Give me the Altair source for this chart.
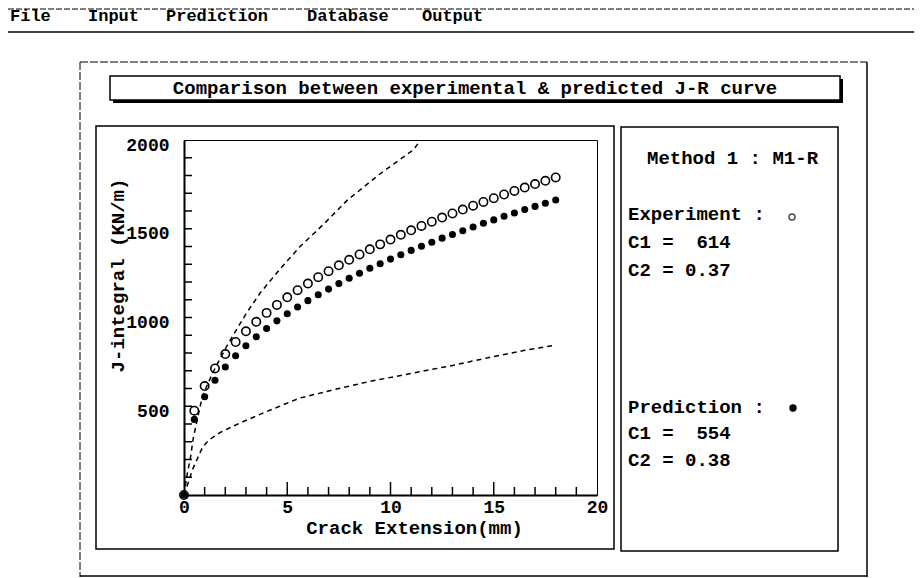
import altair as alt
import pandas as pd

# ---------------- data ----------------
crack_ext = [0, 0.5, 1, 1.5, 2, 2.5, 3, 3.5, 4, 4.5, 5, 5.5, 6, 6.5, 7, 7.5, 8, 8.5, 9,
             9.5, 10, 10.5, 11, 11.5, 12, 12.5, 13, 13.5, 14, 14.5, 15, 15.5, 16, 16.5,
             17, 17.5, 18]
j_experiment = [0, 475, 614, 713, 794, 862, 922, 976, 1026, 1071, 1114, 1154, 1191, 1227,
                1261, 1294, 1325, 1355, 1384, 1412, 1439, 1466, 1491, 1516, 1540, 1563,
                1586, 1608, 1630, 1651, 1672, 1693, 1713, 1732, 1752, 1770, 1789]
j_prediction = [0, 426, 554, 646, 721, 785, 841, 892, 938, 981, 1021, 1059, 1095, 1128,
                1160, 1191, 1221, 1249, 1277, 1303, 1329, 1354, 1378, 1401, 1424, 1447,
                1468, 1489, 1510, 1531, 1550, 1570, 1589, 1608, 1626, 1644, 1662]

upper_x = [0, 0.1, 0.2, 0.3, 0.45, 0.65, 0.9, 1.4, 2.1, 3.0, 3.7, 4.7, 5.6, 6.8, 7.9, 9.5, 11.1, 11.4]
upper_y = [0, 80, 145, 200, 320, 430, 560, 690, 845, 1020, 1140, 1280, 1397, 1530, 1660, 1810, 1944, 1990]
lower_x = [0, 0.2, 0.4, 0.63, 0.9, 1.2, 1.8, 2.7, 4.0, 5.6, 7.5, 9.0, 11.1, 13.0, 15.0, 16.5, 18.0]
lower_y = [0, 68, 140, 200, 270, 310, 355, 405, 470, 546, 600, 640, 687, 730, 780, 815, 845]

x_ticks_major = [5, 10, 15]
x_ticks_minor = [1, 2, 3, 4, 6, 7, 8, 9, 11, 12, 13, 14, 16, 17, 18, 19]
y_ticks = [100, 200, 300, 400, 500, 600, 700, 800, 900, 1000, 1100, 1200, 1300, 1400,
           1500, 1600, 1700, 1800, 1900]
x_labels = [0, 5, 10, 15, 20]
y_labels = [500, 1000, 1500, 2000]

NB = "\u00a0"
menu_items = ["File", "Input", "Prediction", "Database", "Output"]
menu_x = [10, 88, 166, 307, 422]
title_text = "Comparison between experimental & predicted J-R curve"
method_text = "Method 1 : M1-R"
exp_lines = ["Experiment :", "C1 =" + NB + NB + "614", "C2 = 0.37"]
pred_lines = ["Prediction :", "C1 =" + NB + NB + "554", "C2 = 0.38"]

# ---------------- layout (page pixels) ----------------
PL, PT, PW, PH = 184, 140, 413, 355      # plot area on page
TOTAL_W, TOTAL_H = 906, 570
FONT = "Liberation Mono"


def P(x):
    return x - PL


def Q(y):
    return y - PT


one = pd.DataFrame({"a": [0]})


def rule(x1, y1, x2, y2, w=1.0, dash=None):
    kw = dict(color="black", strokeWidth=w)
    if dash:
        kw["strokeDash"] = dash
    return alt.Chart(one).mark_rule(**kw).encode(
        x=alt.value(P(x1)), x2=alt.value(P(x2)), y=alt.value(Q(y1)), y2=alt.value(Q(y2)))


def box(x1, y1, x2, y2, w=1.5):
    return alt.Chart(one).mark_rect(fillOpacity=0, stroke="black", strokeWidth=w).encode(
        x=alt.value(P(x1)), x2=alt.value(P(x2)), y=alt.value(Q(y1)), y2=alt.value(Q(y2)))


def text(s, x, y, size=19, align="left"):
    return alt.Chart(one).mark_text(text=s, align=align, baseline="middle", font=FONT,
                                    fontSize=size, fontWeight="bold", color="black").encode(
        x=alt.value(P(x)), y=alt.value(Q(y)))


layers = []
# menu bar
layers.append(rule(8, 9, 914, 9, 1, [6, 2]))
layers.append(rule(8, 32, 914, 32, 1.5))
for s, mx in zip(menu_items, menu_x):
    layers.append(text(s, mx, 16, 17))

# outer frame
layers.append(rule(80, 62, 867, 62, 1, [8, 2]))
layers.append(rule(80, 62, 80, 577, 1, [8, 2]))
layers.append(rule(867, 62, 867, 577, 1.5))
layers.append(rule(80, 576, 867, 576, 1.5))

# title box with shadow
layers.append(box(110, 76, 840, 100, 1.5))
layers.append(rule(113, 101.5, 842, 101.5, 3))
layers.append(rule(841.5, 79, 841.5, 103, 3))
layers.append(text(title_text, 475, 88, 19, "center"))

# panels
layers.append(box(96, 126, 614, 549, 1.5))
layers.append(box(621, 127, 838, 551, 1.5))

# right panel texts
layers.append(text(method_text, 647, 158))
for i, s in enumerate(exp_lines):
    layers.append(text(s, 628, [214, 242, 270][i]))
for i, s in enumerate(pred_lines):
    layers.append(text(s, 628, [407, 433, 460][i]))
layers.append(alt.Chart(one).mark_point(shape="circle", filled=False, color="black",
                                         size=36, strokeWidth=1.5).encode(
    x=alt.value(P(792)), y=alt.value(Q(217))))
layers.append(alt.Chart(one).mark_point(shape="circle", filled=True, color="black",
                                         size=55, opacity=1).encode(
    x=alt.value(P(793)), y=alt.value(Q(408))))

# ---------------- the plot ----------------
xs = alt.Scale(domain=[0, 20], nice=False, zero=True)
ys = alt.Scale(domain=[0, 2000], nice=False)

pts = pd.DataFrame({"x": crack_ext, "exp": j_experiment, "pred": j_prediction})
up = pd.DataFrame({"x": upper_x, "y": upper_y})
lo = pd.DataFrame({"x": lower_x, "y": lower_y})

x_axis = alt.Axis(values=x_labels, grid=False, ticks=False, domainWidth=2, domainColor="black",
                  format="d",
                  labelFont=FONT, labelFontSize=18, labelFontWeight="bold", labelColor="black",
                  labelPadding=3, labelFlush=False,
                  title="Crack Extension(mm)", titleFont=FONT, titleFontSize=19,
                  titleFontWeight="bold", titleColor="black", titleX=230, titleY=32,
                  titleBaseline="middle", titleAlign="center")
y_axis = alt.Axis(values=y_labels, grid=False, ticks=False, domainWidth=2, domainColor="black",
                  format="d",
                  labelFont=FONT, labelFontSize=18, labelFontWeight="bold", labelColor="black",
                  labelPadding=15, labelOffset=5, labelFlush=False,
                  title="J-integral (KN/m)", titleFont=FONT, titleFontSize=19,
                  titleFontWeight="bold", titleColor="black", titleX=-67, titleY=135,
                  titleAngle=270, titleBaseline="middle", titleAlign="center")

upper = alt.Chart(up).mark_line(color="black", strokeWidth=1.5, strokeDash=[5, 4]).encode(
    x=alt.X("x:Q", scale=xs, axis=x_axis), y=alt.Y("y:Q", scale=ys, axis=y_axis))
lower = alt.Chart(lo).mark_line(color="black", strokeWidth=1.5, strokeDash=[5, 4]).encode(
    x=alt.X("x:Q", scale=xs), y=alt.Y("y:Q", scale=ys))
exp_pts = alt.Chart(pts).mark_point(shape="circle", filled=False, color="black", size=70,
                                    strokeWidth=1.6, opacity=1).encode(
    x=alt.X("x:Q", scale=xs), y=alt.Y("exp:Q", scale=ys))
pred_pts = alt.Chart(pts).mark_point(shape="circle", filled=True, color="black", size=50,
                                     opacity=1).encode(
    x=alt.X("x:Q", scale=xs), y=alt.Y("pred:Q", scale=ys))

xmaj = alt.Chart(pd.DataFrame({"t": x_ticks_major})).mark_rule(color="black", strokeWidth=1.5).encode(
    x=alt.X("t:Q", scale=xs), y=alt.value(PH), y2=alt.value(PH - 13))
xmin = alt.Chart(pd.DataFrame({"t": x_ticks_minor})).mark_rule(color="black", strokeWidth=1.5).encode(
    x=alt.X("t:Q", scale=xs), y=alt.value(PH), y2=alt.value(PH - 8))
ytk = alt.Chart(pd.DataFrame({"t": y_ticks})).mark_rule(color="black", strokeWidth=1.5).encode(
    y=alt.Y("t:Q", scale=ys), x=alt.value(0), x2=alt.value(8))

chart = alt.layer(upper, lower, exp_pts, pred_pts, xmaj, xmin, ytk, *layers).properties(
    width=PW, height=PH,
    padding={"left": PL - 8, "top": PT - 8, "right": TOTAL_W - (PL - 8) - PW,
             "bottom": TOTAL_H - (PT - 8) - PH},
    autosize=alt.AutoSizeParams(type="none"),
    background="white",
).configure_view(stroke="black", strokeWidth=1)

chart.save("out.html", embed_options={"renderer": "svg", "actions": False})
